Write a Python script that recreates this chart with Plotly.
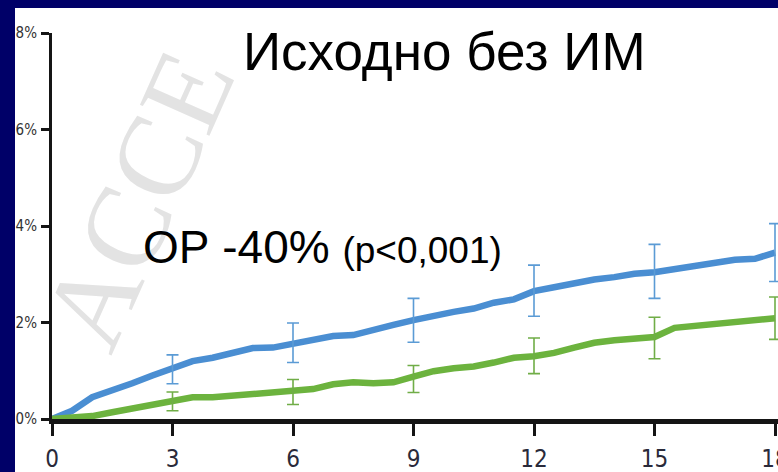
import plotly.graph_objects as go

months = [0, 0.5, 1, 1.5, 2, 2.5, 3, 3.5, 4, 4.5, 5, 5.5, 6, 6.5, 7, 7.5, 8, 8.5, 9,
          9.5, 10, 10.5, 11, 11.5, 12, 12.5, 13, 13.5, 14, 14.5, 15, 15.5, 16, 16.5,
          17, 17.5, 18]
blue_pct = [0, 0.17, 0.45, 0.58, 0.74, 0.90, 1.05, 1.20, 1.27, 1.37, 1.47, 1.48, 1.56,
            1.64, 1.72, 1.74, 1.86, 1.95, 2.05, 2.15, 2.22, 2.29, 2.41, 2.48, 2.65,
            2.73, 2.82, 2.89, 2.94, 3.01, 3.04, 3.10, 3.18, 3.23, 3.30, 3.32, 3.45]
green_pct = [0, 0.02, 0.06, 0.14, 0.22, 0.31, 0.36, 0.45, 0.45, 0.48, 0.53, 0.57, 0.58,
             0.62, 0.72, 0.76, 0.74, 0.76, 0.88, 0.99, 1.05, 1.09, 1.17, 1.27, 1.30,
             1.37, 1.48, 1.58, 1.63, 1.68, 1.70, 1.89, 1.93, 1.95, 1.99, 2.05, 2.09]

err_months = [3, 6, 9, 12, 15, 18]
blue_err_mid = [1.05, 1.56, 2.05, 2.65, 3.04, 3.45]
blue_err_hi = [1.33, 1.99, 2.50, 3.19, 3.62, 4.05]
blue_err_lo = [0.73, 1.17, 1.59, 2.13, 2.50, 2.85]
green_err_mid = [0.36, 0.58, 0.88, 1.30, 1.70, 2.09]
green_err_hi = [0.56, 0.82, 1.11, 1.68, 2.11, 2.53]
green_err_lo = [0.17, 0.30, 0.55, 0.94, 1.25, 1.65]

x_ticks = [0, 3, 6, 9, 12, 15, 18]
y_ticks = [0, 2, 4, 6, 8]
y_tick_text = ["0%", "2%", "4%", "6%", "8%"]

title_text = "Исходно без ИМ"
hr_text = "ОР -40%"
p_text = "(p&lt;0,001)"
watermark = "ACCE"

BLUE = "#4a8ed2"
GREEN = "#6cb33e"
BLUE_E = "#5b9bd5"
GREEN_E = "#70ad47"
NAVY = "#000068"
NARROW = "Liberation Sans Narrow, Arial Narrow, DejaVu Sans Condensed, sans-serif"

fig = go.Figure()
fig.add_trace(go.Scatter(x=months, y=blue_pct, mode="lines",
                         line=dict(color=BLUE, width=6.5), showlegend=False))
fig.add_trace(go.Scatter(x=months, y=green_pct, mode="lines",
                         line=dict(color=GREEN, width=6.5), showlegend=False))

def err_trace(mid, hi, lo, color):
    return go.Scatter(
        x=err_months, y=mid, mode="markers",
        marker=dict(size=1, color="rgba(0,0,0,0)"),
        error_y=dict(type="data", symmetric=False,
                     array=[h - m for h, m in zip(hi, mid)],
                     arrayminus=[m - l for m, l in zip(mid, lo)],
                     color=color, thickness=1.6, width=6),
        showlegend=False)

fig.add_trace(err_trace(blue_err_mid, blue_err_hi, blue_err_lo, BLUE_E))
fig.add_trace(err_trace(green_err_mid, green_err_hi, green_err_lo, GREEN_E))

L, T, B = 52, 33, 53
W, H = 778, 472
pw = W - L
ph = H - T - B
x_max = 18 * pw / (775 - L)

def px(xp):
    return (xp - L) / pw

def py(yp):
    return (T + ph - yp) / ph

fig.add_shape(type="rect", xref="paper", yref="paper",
              x0=px(15), x1=px(W + 5), y0=py(H + 5), y1=py(8),
              fillcolor="white", line=dict(width=0), layer="below")

# faint diagonal watermark
fig.add_annotation(text=watermark, xref="paper", yref="paper",
                   x=px(138), y=py(200), xanchor="center", yanchor="middle",
                   textangle=-66, showarrow=False,
                   font=dict(family="Liberation Serif, serif", size=116, color="#e3e3e3"))

fig.add_annotation(text=title_text, xref="paper", yref="paper",
                   x=px(444), y=py(52), xanchor="center", yanchor="middle",
                   showarrow=False,
                   font=dict(family="Liberation Sans, Arial, sans-serif", size=53, color="black"))

fig.add_annotation(text=hr_text + " <span style='font-size:37px'>" + p_text + "</span>",
                   xref="paper", yref="paper",
                   x=px(141), y=py(247), xanchor="left", yanchor="middle",
                   showarrow=False,
                   font=dict(family="Liberation Sans, Arial, sans-serif", size=46, color="black"))

fig.update_layout(
    width=W, height=H,
    margin=dict(l=L, r=0, t=T, b=B, pad=0, autoexpand=False),
    paper_bgcolor=NAVY, plot_bgcolor="rgba(0,0,0,0)",
    xaxis=dict(range=[0, x_max], tickvals=x_ticks, showgrid=False, zeroline=False,
               showline=True, linecolor="#151515", linewidth=5, automargin=False,
               ticks="outside", ticklen=12, tickwidth=3, tickcolor="#151515",
               ticklabelstandoff=2, ticklabeloverflow="allow",
               tickfont=dict(family=NARROW, size=24, color="#2a2a3a"),
               layer="below traces"),
    yaxis=dict(range=[0, 8], tickvals=y_ticks, ticktext=y_tick_text, showgrid=False,
               zeroline=False, showline=True, linecolor="#151515", linewidth=3,
               automargin=False,
               ticks="outside", ticklen=8, tickwidth=3, tickcolor="#151515",
               ticklabelstandoff=1,
               tickfont=dict(family=NARROW, size=15, color="#333333"),
               layer="below traces"),
)

fig.write_html("out.html")
